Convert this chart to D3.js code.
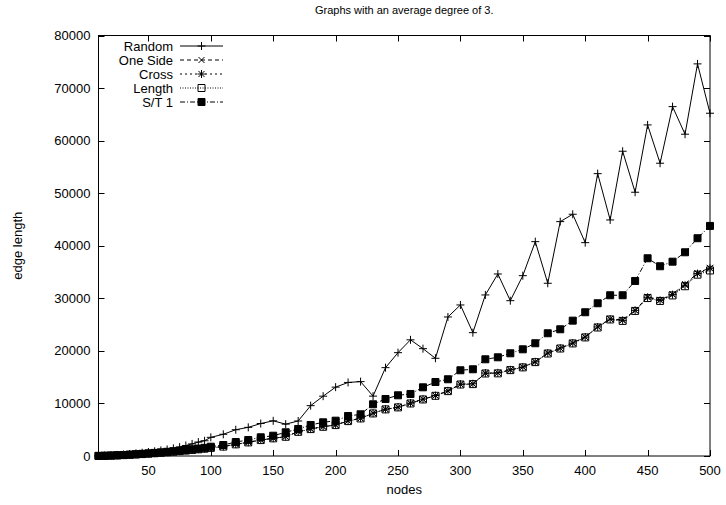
<!DOCTYPE html>
<html>
<head>
<meta charset="utf-8">
<script src="https://cdn.jsdelivr.net/npm/d3@7"></script>
<style>
  body { margin: 0; background: #fff; }
  text { font-family: "Liberation Sans", Arial, sans-serif; fill: #000; }
</style>
</head>
<body>
<div id="chart"></div>
<script>
// x values: step 5 up to 100, then step 10
const nodes = [10, 15, 20, 25, 30, 35, 40, 45, 50, 55, 60, 65, 70, 75, 80, 85, 90, 95,
  100, 110, 120, 130, 140, 150, 160, 170, 180, 190, 200, 210, 220, 230, 240, 250, 260,
  270, 280, 290, 300, 310, 320, 330, 340, 350, 360, 370, 380, 390, 400, 410, 420, 430,
  440, 450, 460, 470, 480, 490, 500];

const randomVals = [30, 70, 130, 200, 290, 390, 500, 620, 760, 900, 1060, 1250, 1450, 1700, 2000, 2300, 2650, 2900,
  3550, 4130, 5000, 5450, 6180, 6690, 6060, 6660, 9580, 11380, 13100, 13990, 14150, 11390, 16810, 19660, 22100,
  20420, 18590, 26450, 28735, 23465, 30640, 34630, 29550, 34310, 40780, 32860, 44590, 45990, 40590, 53720, 44910, 57980,
  50180, 62990, 55700, 66470, 61220, 74600, 65210];

const oneSideVals = [15, 40, 75, 120, 170, 230, 300, 370, 450, 530, 620, 720, 820, 930, 1040, 1160, 1280, 1400,
  1550, 1800, 2230, 2600, 3045, 3370, 3670, 4620, 5140, 5575, 5900, 6660, 7170, 8125, 8890, 9270, 10030,
  10790, 11475, 12370, 13640, 13700, 15740, 15800, 16370, 16950, 17890, 19600, 20490, 21500, 22650, 24600, 26100, 25900,
  27700, 30300, 29700, 30800, 32700, 34800, 35800];

const crossVals = [15, 40, 76, 121, 172, 232, 302, 372, 452, 533, 622, 722, 824, 934, 1045, 1165, 1285, 1405,
  1560, 1810, 2240, 2610, 3060, 3380, 3690, 4640, 5160, 5590, 5920, 6680, 7190, 8150, 8910, 9300, 10060,
  10820, 11500, 12400, 13670, 13750, 15780, 15820, 16400, 16920, 17920, 19580, 20520, 21480, 22620, 24550, 26050, 25800,
  27700, 30200, 29600, 30700, 32500, 34700, 35700];

const lengthVals = [15, 39, 74, 119, 169, 228, 298, 368, 448, 528, 618, 718, 818, 928, 1035, 1155, 1275, 1395,
  1540, 1790, 2220, 2590, 3030, 3360, 3660, 4600, 5120, 5560, 5880, 6640, 7150, 8100, 8870, 9250, 10000,
  10760, 11450, 12340, 13600, 13680, 15700, 15720, 16340, 16860, 17860, 19500, 20450, 21420, 22560, 24450, 25980, 25700,
  27600, 30050, 29500, 30550, 32300, 34500, 35300];

const st1Vals = [20, 48, 88, 138, 195, 260, 335, 415, 500, 590, 690, 800, 910, 1030, 1150, 1280, 1410, 1550,
  1770, 2090, 2660, 3045, 3560, 3860, 4510, 5140, 5900, 6410, 6720, 7610, 7935, 9840, 10850, 11550, 11800,
  13070, 14080, 14600, 16310, 16500, 18400, 18780, 19540, 20300, 21450, 23350, 24110, 25750, 27350, 29060, 30580, 30580,
  33300, 37620, 36100, 36970, 38760, 41430, 43770];

const series = [
  { name: "Random", values: randomVals, dash: null, marker: "plus" },
  { name: "One Side", values: oneSideVals, dash: "4,3", marker: "cross" },
  { name: "Cross", values: crossVals, dash: "2,3", marker: "star" },
  { name: "Length", values: lengthVals, dash: "1,1.5", marker: "box" },
  { name: "S/T 1", values: st1Vals, dash: "5,2,1,2", marker: "fbox" }
];

const xTicks = [50, 100, 150, 200, 250, 300, 350, 400, 450, 500];
const yTicks = [0, 10000, 20000, 30000, 40000, 50000, 60000, 70000, 80000];

const width = 726, height = 505;
const plotL = 98.5, plotR = 710, plotT = 35.5, plotB = 456;

const svg = d3.select("#chart").append("svg")
  .attr("width", width)
  .attr("height", height);

const x = d3.scaleLinear().domain([10, 500]).range([plotL, plotR]);
const y = d3.scaleLinear().domain([0, 80000]).range([plotB, plotT]);

// frame
svg.append("rect")
  .attr("x", plotL).attr("y", plotT)
  .attr("width", plotR - plotL).attr("height", plotB - plotT)
  .attr("fill", "none").attr("stroke", "#000").attr("stroke-width", 1);

const tickLen = 6;
const g = svg.append("g").attr("stroke", "#000").attr("stroke-width", 1);
xTicks.forEach(t => {
  const px = Math.round(x(t)) + 0.5;
  g.append("line").attr("x1", px).attr("x2", px).attr("y1", plotB).attr("y2", plotB - tickLen);
  g.append("line").attr("x1", px).attr("x2", px).attr("y1", plotT).attr("y2", plotT + tickLen);
});
yTicks.forEach(t => {
  const py = Math.round(y(t)) + 0.5;
  g.append("line").attr("x1", plotL).attr("x2", plotL + tickLen).attr("y1", py).attr("y2", py);
  g.append("line").attr("x1", plotR).attr("x2", plotR - tickLen).attr("y1", py).attr("y2", py);
});

svg.append("g").selectAll("text")
  .data(xTicks).enter().append("text")
  .attr("x", d => x(d))
  .attr("y", plotB + 19)
  .attr("text-anchor", "middle")
  .style("font-size", "13px")
  .text(d => d);

svg.append("g").selectAll("text")
  .data(yTicks).enter().append("text")
  .attr("x", plotL - 8)
  .attr("y", d => y(d) + 4.5)
  .attr("text-anchor", "end")
  .style("font-size", "13px")
  .text(d => d);

svg.append("text")
  .attr("x", (plotL + plotR) / 2).attr("y", 14)
  .attr("text-anchor", "middle")
  .style("font-size", "11px")
  .text("Graphs with an average degree of 3.");

svg.append("text")
  .attr("x", (plotL + plotR) / 2).attr("y", 494)
  .attr("text-anchor", "middle")
  .style("font-size", "13px")
  .text("nodes");

svg.append("text")
  .attr("transform", "translate(22," + ((plotT + plotB) / 2) + ") rotate(-90)")
  .attr("text-anchor", "middle")
  .style("font-size", "13px")
  .text("edge length");

function markerPath(type) {
  const p = d3.path();
  const s = 4, c = 3;
  if (type === "plus" || type === "star") {
    p.moveTo(-s, 0); p.lineTo(s, 0);
    p.moveTo(0, -s); p.lineTo(0, s);
  }
  if (type === "cross" || type === "star") {
    p.moveTo(-c, -c); p.lineTo(c, c);
    p.moveTo(-c, c); p.lineTo(c, -c);
  }
  if (type === "box" || type === "fbox") {
    p.rect(-3.5, -3.5, 7, 7);
  }
  return p.toString();
}

const line = d3.line()
  .x(d => x(d[0]))
  .y(d => y(d[1]));

series.forEach(s => {
  const pts = nodes.map((n, i) => [n, s.values[i]]);
  svg.append("path")
    .datum(pts)
    .attr("fill", "none")
    .attr("stroke", "#000")
    .attr("stroke-width", 1)
    .attr("stroke-dasharray", s.dash)
    .attr("d", line);

  svg.append("g").selectAll("path")
    .data(pts).enter().append("path")
    .attr("transform", d => "translate(" + x(d[0]) + "," + y(d[1]) + ")")
    .attr("d", markerPath(s.marker))
    .attr("fill", s.marker === "fbox" ? "#000" : "none")
    .attr("stroke", "#000")
    .attr("stroke-width", 1);
});

// legend
const legend = svg.append("g");
series.forEach((s, i) => {
  const ly = 46 + i * 14;
  legend.append("text")
    .attr("x", 173).attr("y", ly + 4.5)
    .attr("text-anchor", "end")
    .style("font-size", "13px")
    .text(s.name);
  legend.append("line")
    .attr("x1", 180).attr("x2", 223)
    .attr("y1", ly).attr("y2", ly)
    .attr("stroke", "#000")
    .attr("stroke-dasharray", s.dash);
  legend.append("path")
    .attr("transform", "translate(201.5," + ly + ")")
    .attr("d", markerPath(s.marker))
    .attr("fill", s.marker === "fbox" ? "#000" : "none")
    .attr("stroke", "#000");
});
</script>
</body>
</html>
